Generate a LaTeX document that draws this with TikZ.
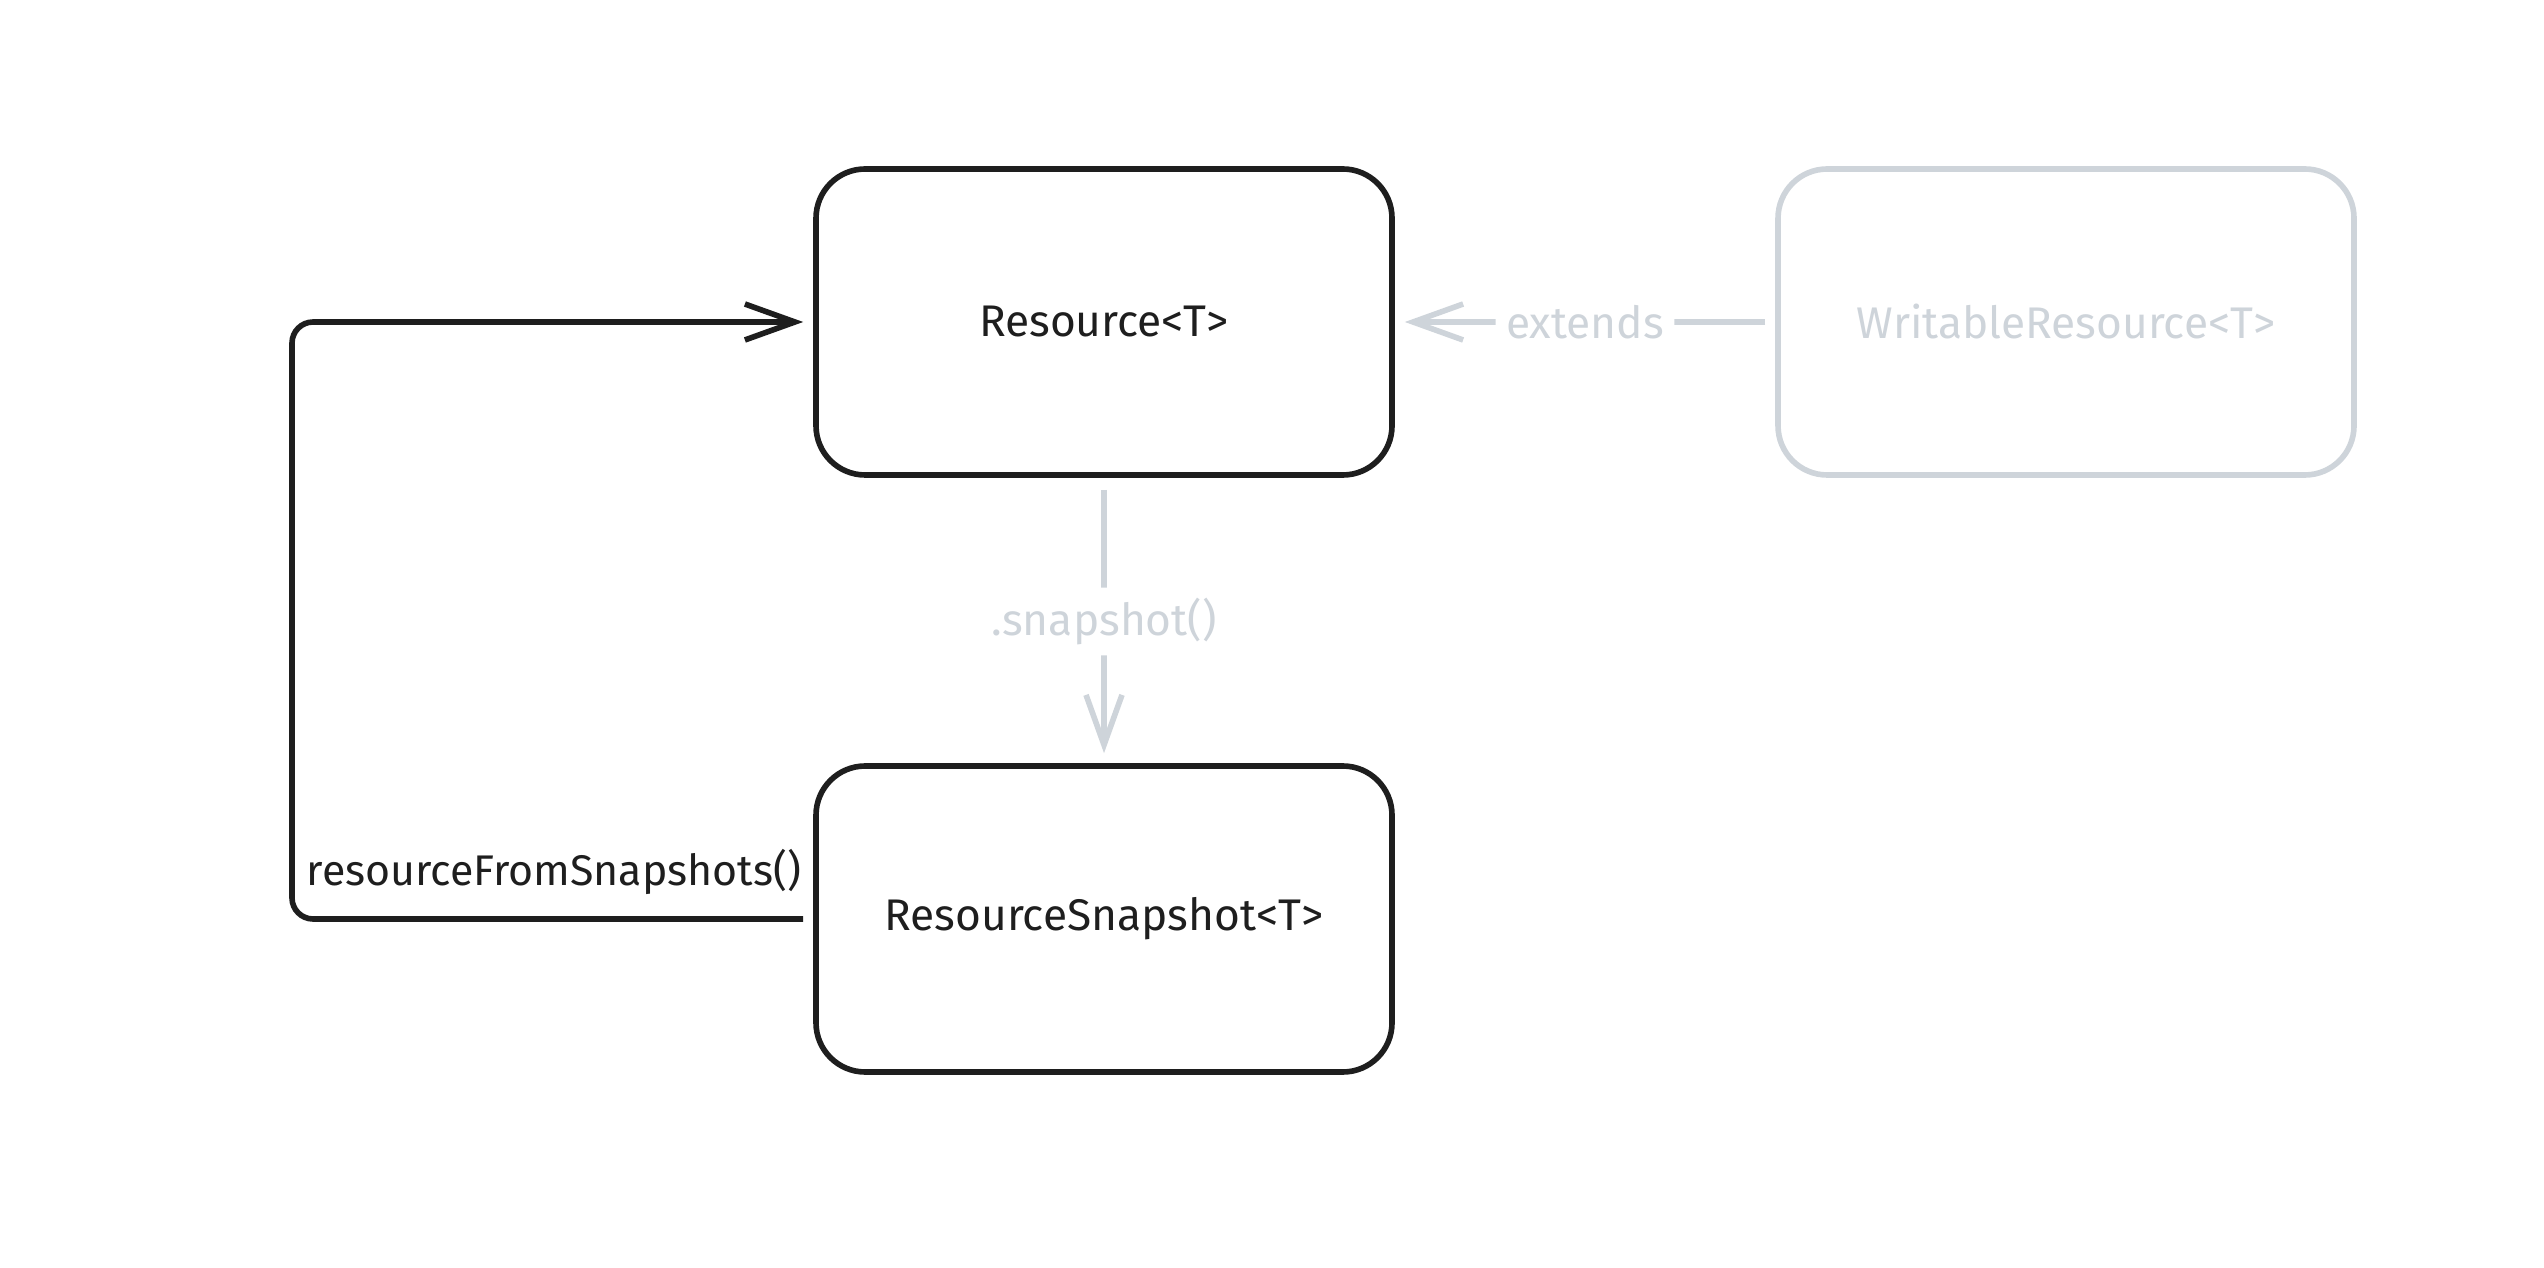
\documentclass[tikz,border=0pt]{standalone}
\usepackage{fontspec}
\setmainfont{Fira Sans}
\usetikzlibrary{positioning,arrows.meta}
\definecolor{ink}{HTML}{1E1E1E}
\definecolor{mist}{HTML}{CED4DA}
\tikzset{
  cls/.style ={rectangle, rounded corners=14pt, draw=ink, line width=1.6pt, fill=white,
               minimum width=5.76cm, minimum height=3.06cm, font=\fontsize{12.6}{15}\selectfont, text=ink},
  clsg/.style={cls, draw=mist, text=mist},
  eb/.style  ={-{Straight Barb[length=5mm, width=3.6mm, line width=1.6pt]}, draw=ink, line width=1.6pt, rounded corners=6pt},
  eg/.style  ={eb, draw=mist},
  el/.style  ={font=\fontsize{12.6}{15}\selectfont, inner sep=3pt, fill=white},
}
\begin{document}
\begin{tikzpicture}
\useasboundingbox (0,0) rectangle (25.44,12.67);
%% ---------- classes ----------
\node[cls]  (res)  at (11.04, 9.45) {Resource<T>};
\node[clsg] (wres) at (20.66, 9.45) {WritableResource<T>};
\node[cls]  (snap) at (11.04, 3.48) {ResourceSnapshot<T>};
%% ---------- relations ----------
\draw[eg] ([xshift=-1mm]wres.west) -- ([xshift=1mm]res.east)
  node[el, text=mist, midway] {extends};
\draw[eg] ([yshift=-1.2mm]res.south) -- ([yshift=1mm]snap.north)
  node[el, text=mist, midway] {.snapshot()};
% way back from a snapshot, round the left side
\coordinate (back) at (2.92, 6.5);
\draw[eb] ([xshift=-1mm]snap.west) -| (back) |- ([xshift=-1mm]res.west);
\node[el, text=ink, fill=none, inner sep=0pt, font=\fontsize{12.2}{15}\selectfont, anchor=south west]
  (fromlbl) at (3.06, 3.72) {resourceFromSnapshots()};
\end{tikzpicture}
\end{document}
